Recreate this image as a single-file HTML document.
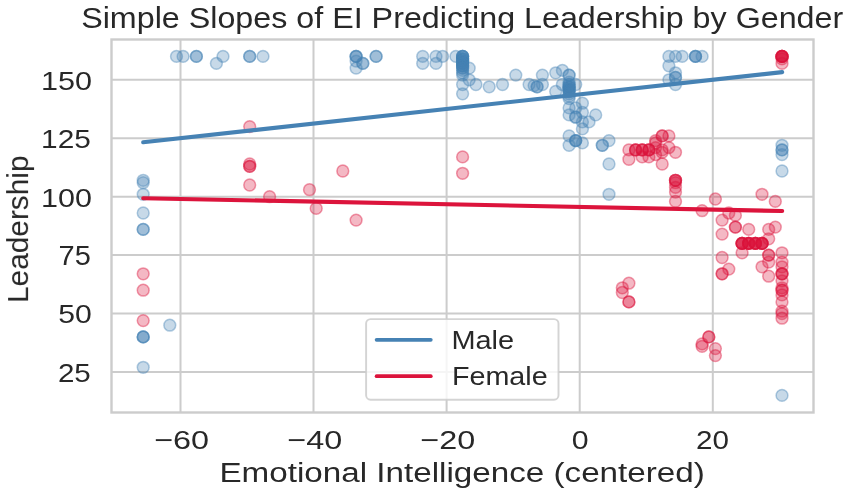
<!DOCTYPE html>
<html><head><meta charset="utf-8"><title>Simple Slopes</title>
<style>
html,body{margin:0;padding:0;background:#fff;}
body{width:851px;height:496px;overflow:hidden;}
svg{display:block;font-family:"Liberation Sans",sans-serif;}
</style></head><body>
<svg width="851" height="496" viewBox="0 0 851 496">
<rect width="851" height="496" fill="#ffffff"/>
<g stroke="#cccccc" stroke-width="2" fill="none">
<line x1="180.5" y1="39.5" x2="180.5" y2="412.5"/>
<line x1="313.5" y1="39.5" x2="313.5" y2="412.5"/>
<line x1="446.6" y1="39.5" x2="446.6" y2="412.5"/>
<line x1="579.7" y1="39.5" x2="579.7" y2="412.5"/>
<line x1="712.8" y1="39.5" x2="712.8" y2="412.5"/>
<line x1="111.5" y1="79.8" x2="813.5" y2="79.8"/>
<line x1="111.5" y1="138.2" x2="813.5" y2="138.2"/>
<line x1="111.5" y1="196.7" x2="813.5" y2="196.7"/>
<line x1="111.5" y1="255.1" x2="813.5" y2="255.1"/>
<line x1="111.5" y1="313.6" x2="813.5" y2="313.6"/>
<line x1="111.5" y1="372.0" x2="813.5" y2="372.0"/>
</g>
<g fill="#4682b4" stroke="#4682b4" fill-opacity="0.3" stroke-opacity="0.42" stroke-width="1.5">
<circle cx="143.2" cy="180.3" r="5.9"/>
<circle cx="143.2" cy="182.7" r="5.9"/>
<circle cx="143.2" cy="194.3" r="5.9"/>
<circle cx="143.2" cy="213.0" r="5.9"/>
<circle cx="143.2" cy="229.4" r="5.9"/>
<circle cx="143.2" cy="229.4" r="5.9"/>
<circle cx="143.2" cy="336.9" r="5.9"/>
<circle cx="143.2" cy="336.9" r="5.9"/>
<circle cx="143.2" cy="336.9" r="5.9"/>
<circle cx="143.2" cy="367.3" r="5.9"/>
<circle cx="169.8" cy="325.2" r="5.9"/>
<circle cx="176.5" cy="56.4" r="5.9"/>
<circle cx="183.1" cy="56.4" r="5.9"/>
<circle cx="196.4" cy="56.4" r="5.9"/>
<circle cx="196.4" cy="56.4" r="5.9"/>
<circle cx="216.4" cy="63.4" r="5.9"/>
<circle cx="223.0" cy="56.4" r="5.9"/>
<circle cx="249.7" cy="56.4" r="5.9"/>
<circle cx="249.7" cy="56.4" r="5.9"/>
<circle cx="263.0" cy="56.4" r="5.9"/>
<circle cx="356.1" cy="56.4" r="5.9"/>
<circle cx="356.1" cy="56.4" r="5.9"/>
<circle cx="356.1" cy="56.4" r="5.9"/>
<circle cx="356.1" cy="61.1" r="5.9"/>
<circle cx="356.1" cy="68.1" r="5.9"/>
<circle cx="362.8" cy="63.4" r="5.9"/>
<circle cx="362.8" cy="63.4" r="5.9"/>
<circle cx="376.1" cy="56.4" r="5.9"/>
<circle cx="376.1" cy="56.4" r="5.9"/>
<circle cx="422.7" cy="56.4" r="5.9"/>
<circle cx="422.7" cy="63.4" r="5.9"/>
<circle cx="436.0" cy="56.4" r="5.9"/>
<circle cx="436.0" cy="63.4" r="5.9"/>
<circle cx="442.6" cy="56.4" r="5.9"/>
<circle cx="455.9" cy="56.4" r="5.9"/>
<circle cx="462.6" cy="56.4" r="5.9"/>
<circle cx="462.6" cy="56.4" r="5.9"/>
<circle cx="462.6" cy="56.4" r="5.9"/>
<circle cx="462.6" cy="56.4" r="5.9"/>
<circle cx="462.6" cy="58.8" r="5.9"/>
<circle cx="462.6" cy="58.8" r="5.9"/>
<circle cx="462.6" cy="58.8" r="5.9"/>
<circle cx="462.6" cy="61.1" r="5.9"/>
<circle cx="462.6" cy="61.1" r="5.9"/>
<circle cx="462.6" cy="61.1" r="5.9"/>
<circle cx="462.6" cy="63.4" r="5.9"/>
<circle cx="462.6" cy="63.4" r="5.9"/>
<circle cx="462.6" cy="63.4" r="5.9"/>
<circle cx="462.6" cy="65.8" r="5.9"/>
<circle cx="462.6" cy="65.8" r="5.9"/>
<circle cx="462.6" cy="65.8" r="5.9"/>
<circle cx="462.6" cy="68.1" r="5.9"/>
<circle cx="462.6" cy="68.1" r="5.9"/>
<circle cx="462.6" cy="70.4" r="5.9"/>
<circle cx="462.6" cy="72.8" r="5.9"/>
<circle cx="462.6" cy="75.1" r="5.9"/>
<circle cx="462.6" cy="84.5" r="5.9"/>
<circle cx="462.6" cy="93.8" r="5.9"/>
<circle cx="469.2" cy="68.1" r="5.9"/>
<circle cx="469.2" cy="79.8" r="5.9"/>
<circle cx="475.9" cy="84.5" r="5.9"/>
<circle cx="489.2" cy="86.8" r="5.9"/>
<circle cx="502.5" cy="84.5" r="5.9"/>
<circle cx="515.8" cy="75.1" r="5.9"/>
<circle cx="529.1" cy="84.5" r="5.9"/>
<circle cx="534.1" cy="85.6" r="5.9"/>
<circle cx="537.1" cy="86.8" r="5.9"/>
<circle cx="537.1" cy="86.8" r="5.9"/>
<circle cx="542.4" cy="75.1" r="5.9"/>
<circle cx="542.4" cy="84.5" r="5.9"/>
<circle cx="555.7" cy="72.8" r="5.9"/>
<circle cx="555.7" cy="91.5" r="5.9"/>
<circle cx="562.4" cy="70.4" r="5.9"/>
<circle cx="562.4" cy="84.5" r="5.9"/>
<circle cx="569.1" cy="75.1" r="5.9"/>
<circle cx="569.1" cy="75.1" r="5.9"/>
<circle cx="569.1" cy="82.1" r="5.9"/>
<circle cx="569.1" cy="84.5" r="5.9"/>
<circle cx="569.1" cy="84.5" r="5.9"/>
<circle cx="569.1" cy="86.8" r="5.9"/>
<circle cx="569.1" cy="86.8" r="5.9"/>
<circle cx="569.1" cy="86.8" r="5.9"/>
<circle cx="569.1" cy="89.2" r="5.9"/>
<circle cx="569.1" cy="89.2" r="5.9"/>
<circle cx="569.1" cy="89.2" r="5.9"/>
<circle cx="569.1" cy="91.5" r="5.9"/>
<circle cx="569.1" cy="91.5" r="5.9"/>
<circle cx="569.1" cy="93.8" r="5.9"/>
<circle cx="569.1" cy="96.2" r="5.9"/>
<circle cx="569.1" cy="98.5" r="5.9"/>
<circle cx="569.1" cy="107.9" r="5.9"/>
<circle cx="569.1" cy="114.9" r="5.9"/>
<circle cx="569.1" cy="135.9" r="5.9"/>
<circle cx="569.1" cy="145.3" r="5.9"/>
<circle cx="575.7" cy="84.5" r="5.9"/>
<circle cx="575.7" cy="107.9" r="5.9"/>
<circle cx="575.7" cy="117.2" r="5.9"/>
<circle cx="575.7" cy="117.2" r="5.9"/>
<circle cx="575.7" cy="140.6" r="5.9"/>
<circle cx="575.7" cy="140.6" r="5.9"/>
<circle cx="575.7" cy="140.6" r="5.9"/>
<circle cx="582.4" cy="103.2" r="5.9"/>
<circle cx="582.4" cy="112.5" r="5.9"/>
<circle cx="582.4" cy="121.9" r="5.9"/>
<circle cx="582.4" cy="128.9" r="5.9"/>
<circle cx="582.4" cy="142.9" r="5.9"/>
<circle cx="589.0" cy="121.9" r="5.9"/>
<circle cx="595.7" cy="114.9" r="5.9"/>
<circle cx="602.3" cy="145.3" r="5.9"/>
<circle cx="602.3" cy="145.3" r="5.9"/>
<circle cx="609.0" cy="140.6" r="5.9"/>
<circle cx="609.0" cy="164.0" r="5.9"/>
<circle cx="609.0" cy="194.3" r="5.9"/>
<circle cx="668.9" cy="56.4" r="5.9"/>
<circle cx="668.9" cy="65.8" r="5.9"/>
<circle cx="668.9" cy="79.8" r="5.9"/>
<circle cx="675.5" cy="56.4" r="5.9"/>
<circle cx="675.5" cy="72.8" r="5.9"/>
<circle cx="675.5" cy="77.5" r="5.9"/>
<circle cx="675.5" cy="77.5" r="5.9"/>
<circle cx="675.5" cy="84.5" r="5.9"/>
<circle cx="682.2" cy="56.4" r="5.9"/>
<circle cx="695.5" cy="56.4" r="5.9"/>
<circle cx="695.5" cy="56.4" r="5.9"/>
<circle cx="695.5" cy="56.4" r="5.9"/>
<circle cx="702.1" cy="56.4" r="5.9"/>
<circle cx="782.0" cy="145.3" r="5.9"/>
<circle cx="782.0" cy="149.9" r="5.9"/>
<circle cx="782.0" cy="149.9" r="5.9"/>
<circle cx="782.0" cy="154.6" r="5.9"/>
<circle cx="782.0" cy="171.0" r="5.9"/>
<circle cx="782.0" cy="395.4" r="5.9"/>
</g>
<g fill="#dc143c" stroke="#dc143c" fill-opacity="0.3" stroke-opacity="0.42" stroke-width="1.5">
<circle cx="143.2" cy="273.8" r="5.9"/>
<circle cx="143.2" cy="290.2" r="5.9"/>
<circle cx="143.2" cy="320.6" r="5.9"/>
<circle cx="249.7" cy="126.6" r="5.9"/>
<circle cx="249.7" cy="164.0" r="5.9"/>
<circle cx="249.7" cy="166.3" r="5.9"/>
<circle cx="249.7" cy="166.3" r="5.9"/>
<circle cx="249.7" cy="185.0" r="5.9"/>
<circle cx="269.6" cy="196.7" r="5.9"/>
<circle cx="309.5" cy="189.7" r="5.9"/>
<circle cx="316.2" cy="208.4" r="5.9"/>
<circle cx="342.8" cy="171.0" r="5.9"/>
<circle cx="356.1" cy="220.1" r="5.9"/>
<circle cx="462.6" cy="156.9" r="5.9"/>
<circle cx="462.6" cy="173.3" r="5.9"/>
<circle cx="622.3" cy="287.8" r="5.9"/>
<circle cx="622.3" cy="292.5" r="5.9"/>
<circle cx="628.9" cy="283.2" r="5.9"/>
<circle cx="628.9" cy="301.9" r="5.9"/>
<circle cx="628.9" cy="301.9" r="5.9"/>
<circle cx="628.9" cy="149.9" r="5.9"/>
<circle cx="628.9" cy="159.3" r="5.9"/>
<circle cx="635.6" cy="149.9" r="5.9"/>
<circle cx="635.6" cy="149.9" r="5.9"/>
<circle cx="635.6" cy="149.9" r="5.9"/>
<circle cx="642.2" cy="149.9" r="5.9"/>
<circle cx="642.2" cy="149.9" r="5.9"/>
<circle cx="642.2" cy="149.9" r="5.9"/>
<circle cx="642.2" cy="156.9" r="5.9"/>
<circle cx="648.9" cy="149.9" r="5.9"/>
<circle cx="648.9" cy="149.9" r="5.9"/>
<circle cx="648.9" cy="149.9" r="5.9"/>
<circle cx="648.9" cy="156.9" r="5.9"/>
<circle cx="655.6" cy="140.6" r="5.9"/>
<circle cx="655.6" cy="142.9" r="5.9"/>
<circle cx="655.6" cy="147.6" r="5.9"/>
<circle cx="655.6" cy="154.6" r="5.9"/>
<circle cx="662.2" cy="135.9" r="5.9"/>
<circle cx="662.2" cy="135.9" r="5.9"/>
<circle cx="662.2" cy="149.9" r="5.9"/>
<circle cx="662.2" cy="152.3" r="5.9"/>
<circle cx="662.2" cy="164.0" r="5.9"/>
<circle cx="668.9" cy="135.9" r="5.9"/>
<circle cx="668.9" cy="147.6" r="5.9"/>
<circle cx="675.5" cy="152.3" r="5.9"/>
<circle cx="675.5" cy="180.3" r="5.9"/>
<circle cx="675.5" cy="180.3" r="5.9"/>
<circle cx="675.5" cy="180.3" r="5.9"/>
<circle cx="675.5" cy="182.7" r="5.9"/>
<circle cx="675.5" cy="187.3" r="5.9"/>
<circle cx="675.5" cy="192.0" r="5.9"/>
<circle cx="675.5" cy="201.4" r="5.9"/>
<circle cx="702.1" cy="210.7" r="5.9"/>
<circle cx="702.1" cy="343.9" r="5.9"/>
<circle cx="702.1" cy="346.3" r="5.9"/>
<circle cx="708.8" cy="336.9" r="5.9"/>
<circle cx="708.8" cy="336.9" r="5.9"/>
<circle cx="715.4" cy="199.0" r="5.9"/>
<circle cx="715.4" cy="348.6" r="5.9"/>
<circle cx="715.4" cy="355.6" r="5.9"/>
<circle cx="722.1" cy="220.1" r="5.9"/>
<circle cx="722.1" cy="234.1" r="5.9"/>
<circle cx="722.1" cy="257.5" r="5.9"/>
<circle cx="722.1" cy="273.8" r="5.9"/>
<circle cx="722.1" cy="273.8" r="5.9"/>
<circle cx="728.8" cy="213.0" r="5.9"/>
<circle cx="728.8" cy="269.1" r="5.9"/>
<circle cx="735.4" cy="215.4" r="5.9"/>
<circle cx="735.4" cy="227.1" r="5.9"/>
<circle cx="735.4" cy="227.1" r="5.9"/>
<circle cx="742.1" cy="243.4" r="5.9"/>
<circle cx="742.1" cy="243.4" r="5.9"/>
<circle cx="742.1" cy="243.4" r="5.9"/>
<circle cx="742.1" cy="243.4" r="5.9"/>
<circle cx="742.1" cy="243.4" r="5.9"/>
<circle cx="742.1" cy="252.8" r="5.9"/>
<circle cx="748.7" cy="229.4" r="5.9"/>
<circle cx="748.7" cy="243.4" r="5.9"/>
<circle cx="748.7" cy="243.4" r="5.9"/>
<circle cx="748.7" cy="243.4" r="5.9"/>
<circle cx="748.7" cy="243.4" r="5.9"/>
<circle cx="748.7" cy="243.4" r="5.9"/>
<circle cx="755.4" cy="243.4" r="5.9"/>
<circle cx="755.4" cy="243.4" r="5.9"/>
<circle cx="755.4" cy="243.4" r="5.9"/>
<circle cx="755.4" cy="243.4" r="5.9"/>
<circle cx="755.4" cy="243.4" r="5.9"/>
<circle cx="762.0" cy="194.3" r="5.9"/>
<circle cx="762.0" cy="243.4" r="5.9"/>
<circle cx="762.0" cy="243.4" r="5.9"/>
<circle cx="762.0" cy="243.4" r="5.9"/>
<circle cx="762.0" cy="243.4" r="5.9"/>
<circle cx="762.0" cy="243.4" r="5.9"/>
<circle cx="762.0" cy="266.8" r="5.9"/>
<circle cx="768.7" cy="229.4" r="5.9"/>
<circle cx="768.7" cy="238.8" r="5.9"/>
<circle cx="768.7" cy="255.1" r="5.9"/>
<circle cx="768.7" cy="255.1" r="5.9"/>
<circle cx="768.7" cy="262.1" r="5.9"/>
<circle cx="768.7" cy="276.2" r="5.9"/>
<circle cx="775.3" cy="201.4" r="5.9"/>
<circle cx="775.3" cy="227.1" r="5.9"/>
<circle cx="782.0" cy="56.4" r="5.9"/>
<circle cx="782.0" cy="56.4" r="5.9"/>
<circle cx="782.0" cy="56.4" r="5.9"/>
<circle cx="782.0" cy="56.4" r="5.9"/>
<circle cx="782.0" cy="56.4" r="5.9"/>
<circle cx="782.0" cy="56.4" r="5.9"/>
<circle cx="782.0" cy="58.8" r="5.9"/>
<circle cx="782.0" cy="63.4" r="5.9"/>
<circle cx="782.0" cy="252.8" r="5.9"/>
<circle cx="782.0" cy="262.1" r="5.9"/>
<circle cx="782.0" cy="266.8" r="5.9"/>
<circle cx="782.0" cy="273.8" r="5.9"/>
<circle cx="782.0" cy="273.8" r="5.9"/>
<circle cx="782.0" cy="273.8" r="5.9"/>
<circle cx="782.0" cy="280.8" r="5.9"/>
<circle cx="782.0" cy="287.8" r="5.9"/>
<circle cx="782.0" cy="290.2" r="5.9"/>
<circle cx="782.0" cy="290.2" r="5.9"/>
<circle cx="782.0" cy="294.9" r="5.9"/>
<circle cx="782.0" cy="301.9" r="5.9"/>
<circle cx="782.0" cy="311.2" r="5.9"/>
<circle cx="782.0" cy="313.6" r="5.9"/>
<circle cx="782.0" cy="318.2" r="5.9"/>
</g>
<g fill="none" stroke-width="4.1" stroke-linecap="round">
<line x1="143.2" y1="142.3" x2="782.2" y2="72.1" stroke="#4682b4"/>
<line x1="143.2" y1="198.2" x2="782.2" y2="211" stroke="#dc143c"/>
</g>
<rect x="111.5" y="39.5" width="702.0" height="373.0" fill="none" stroke="#cccccc" stroke-width="2.4"/>
<rect x="366.1" y="319.1" width="192.4" height="80.6" rx="4.5" ry="4.5" fill="#ffffff" fill-opacity="0.8" stroke="#cccccc" stroke-opacity="0.85" stroke-width="1.9"/>
<g fill="none" stroke-width="3.7" stroke-linecap="round">
<line x1="376.6" y1="339.8" x2="430.8" y2="339.8" stroke="#4682b4"/>
<line x1="376.6" y1="376.2" x2="430.8" y2="376.2" stroke="#dc143c"/>
</g>
<g fill="#262626" opacity="0.99">
<text transform="translate(81.15,28.10) scale(1.1137,1)" font-size="28.97">Simple Slopes of EI Predicting Leadership by Gender</text>
<text transform="translate(219.44,482.40) scale(1.1807,1)" font-size="28.14">Emotional Intelligence (centered)</text>
<text transform="translate(28.10,302.98) rotate(-90) scale(1.0391,1)" font-size="28.69">Leadership</text>
<text transform="translate(40.91,89.69) scale(1.1574,1)" font-size="26.41">150</text>
<text transform="translate(41.06,148.13) scale(1.1294,1)" font-size="26.41">125</text>
<text transform="translate(41.01,206.57) scale(1.1550,1)" font-size="26.41">100</text>
<text transform="translate(58.55,265.00) scale(1.0822,1)" font-size="26.79">75</text>
<text transform="translate(58.29,323.45) scale(1.1439,1)" font-size="26.41">50</text>
<text transform="translate(57.92,381.89) scale(1.1199,1)" font-size="26.41">25</text>
<text transform="translate(154.14,449.44) scale(1.2294,1)" font-size="26.34">−60</text>
<text transform="translate(287.24,449.44) scale(1.2294,1)" font-size="26.34">−40</text>
<text transform="translate(420.34,449.44) scale(1.2294,1)" font-size="26.34">−20</text>
<text transform="translate(571.84,449.44) scale(1.1508,1)" font-size="26.34">0</text>
<text transform="translate(696.02,449.44) scale(1.1248,1)" font-size="26.34">20</text>
<text transform="translate(451.39,348.70) scale(1.0867,1)" font-size="26.62">Male</text>
<text transform="translate(451.90,385.30) scale(1.0790,1)" font-size="26.62">Female</text>
</g>
</svg>
</body></html>
